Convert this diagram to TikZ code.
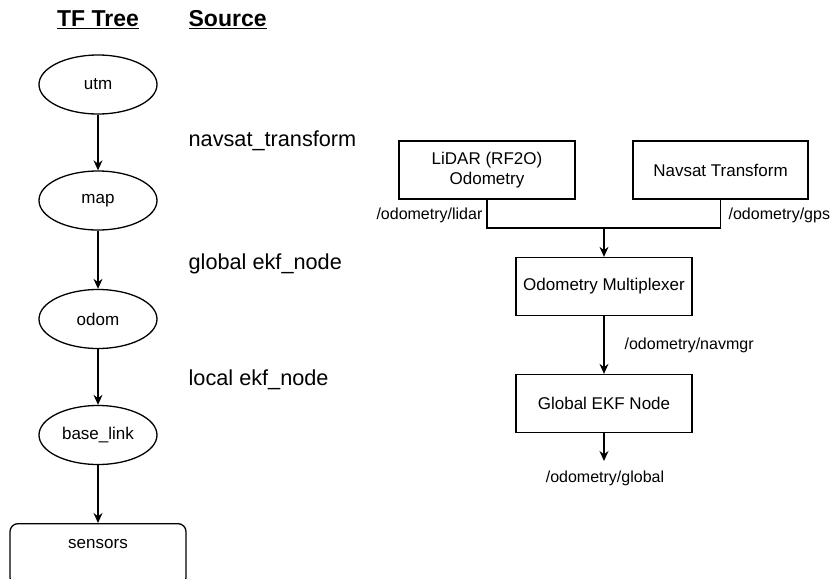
\documentclass[tikz,border=0pt]{standalone}
\usepackage{fontspec}
\setmainfont{Liberation Sans}
\usetikzlibrary{arrows.meta,shapes.geometric}
\begin{document}
\begin{tikzpicture}[x=1pt,y=1pt,line width=1.3pt,
  every node/.style={font=\fontsize{17}{20}\selectfont,inner sep=0pt},
  tfnode/.style={draw,ellipse,minimum width=118pt,minimum height=59pt},
  procbox/.style={draw,rectangle,minimum width=176pt,minimum height=58pt,align=center},
  flow/.style={-{Stealth[length=10pt,width=9pt]}},
  heading/.style={font=\fontsize{23}{26}\selectfont\bfseries},
  srclabel/.style={font=\fontsize{21.7}{24}\selectfont,anchor=west},
  topic/.style={font=\fontsize{16}{19}\selectfont}]
  \useasboundingbox (0,0) rectangle (831,-579);
  \clip (0,0) rectangle (831,-579);

  % column headings
  \node[heading] (hdtree) at (98,-20) {\underline{TF Tree}};
  \node[heading,anchor=west] (hdsrc) at (188,-20) {\underline{Source}};

  % TF tree frames
  \node[tfnode] (utm) at (98,-84.5) {utm};
  \node[tfnode] (map) at (98,-200.5) {map};
  \node[tfnode] (odom) at (98,-319) {odom};
  \node[tfnode] (base) at (98,-435) {base\_link};
  \node[draw,rounded corners=8pt,minimum width=176pt,minimum height=62pt,anchor=north]
    (sensors) at (98,-523) {\raisebox{21pt}{sensors}};

  \draw[flow] (utm) -- (map);
  \draw[flow] (map) -- (odom);
  \draw[flow] (odom) -- (base);
  \draw[flow] (base) -- (sensors);

  % which node publishes each transform
  \node[srclabel] (srcnav) at (188,-141) {navsat\_transform};
  \node[srclabel] (srcglob) at (188,-264) {global ekf\_node};
  \node[srclabel] (srcloc) at (188,-380) {local ekf\_node};

  % odometry pipeline
  \node[procbox] (lidar) at (487,-170) {LiDAR (RF2O)\\Odometry};
  \node[procbox,minimum width=175pt] (navsat) at (720.5,-170) {Navsat Transform};
  \node[procbox] (mux) at (604,-286.5) {Odometry Multiplexer};
  \node[procbox] (ekf) at (604,-403.5) {Global EKF Node};
  \coordinate (join) at (604,-228);
  \coordinate (out) at (604,-461);

  \draw (lidar.south) |- (join) -| (navsat.south);
  \draw[flow] (join) -- (mux.north);
  \draw[flow] (mux) -- (ekf);
  \draw[flow] (ekf) -- (out);

  \node[topic,anchor=east] (tlidar) at (483,-215) {/odometry/lidar};
  \node[topic,anchor=west] (tgps) at (728,-215) {/odometry/gps};
  \node[topic,anchor=west] (tnav) at (624,-345) {/odometry/navmgr};
  \node[topic] (tglob) at (605,-478) {/odometry/global};
\end{tikzpicture}
\end{document}
